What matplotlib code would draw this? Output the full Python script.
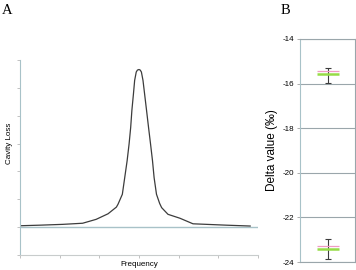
import matplotlib.pyplot as plt

# panel A: cavity loss spectrum (arbitrary units)
freq = [0.0, 0.49, 1.08, 1.58, 1.92, 2.01, 2.22, 2.43, 2.47, 2.58, 2.64,
        2.70, 2.75, 2.79, 2.82, 2.86, 2.89, 2.93, 2.96, 3.00, 3.03, 3.06,
        3.10, 3.14, 3.19, 3.24, 3.29, 3.34, 3.38, 3.44, 3.52, 3.57, 3.73,
        4.03, 4.36, 4.70, 5.21, 5.80]
loss = [0.05, 0.07, 0.10, 0.14, 0.28, 0.34, 0.48, 0.72, 0.82, 1.18, 1.78,
        2.38, 2.99, 3.58, 4.19, 4.79, 5.27, 5.57, 5.64, 5.66, 5.64, 5.57,
        5.27, 4.79, 4.19, 3.58, 2.99, 2.38, 1.78, 1.18, 0.85, 0.70, 0.46,
        0.32, 0.12, 0.10, 0.07, 0.04]

# panel B: delta values (permil), two measurements with error bars
delta_pink = [-15.45, -23.30]
delta_green = [-15.56, -23.41]
err_low = [0.40, 0.46]
err_high = [0.28, 0.46]

plt.rcParams["font.family"] = ["Liberation Sans", "DejaVu Sans"]

spine_col = "#a8c2c8"
grid_col = "#9aa6ab"
line_col = "#3c3c3c"

fig = plt.figure(figsize=(3.56, 2.70), dpi=100)

# ---- A ----
axA = fig.add_axes([0.056, 0.0556, 0.669, 0.722])
axA.plot(freq, loss, color=line_col, linewidth=0.9, solid_joinstyle="round")
axA.axhline(0, color=spine_col, linewidth=1.0, zorder=0)
axA.set_xlim(0, 6)
axA.set_ylim(-1, 6)
axA.set_xticks(range(7))
axA.set_yticks(range(-1, 7))
axA.set_xticklabels([])
axA.set_yticklabels([])
axA.tick_params(length=2, width=0.6, colors="#b8b8b8")
for s in ["top", "right"]:
    axA.spines[s].set_visible(False)
axA.spines["left"].set_color(spine_col)
axA.spines["bottom"].set_color("#c8cccc")
axA.spines["left"].set_linewidth(0.8)
axA.spines["bottom"].set_linewidth(0.8)
fig.text(0.026, 0.47, "Cavity Loss", rotation=90, fontsize=5.8,
         ha="center", va="center")
fig.text(0.39, 0.022, "Frequency", fontsize=5.8, ha="center", va="center")
fig.text(0.006, 0.985, "A", fontsize=10.5, family="Liberation Serif",
         ha="left", va="top")

# ---- B ----
axB = fig.add_axes([0.843, 0.0296, 0.154, 0.826])
x = [1, 1]
axB.errorbar(x, delta_green, yerr=[err_low, err_high], fmt="none",
             ecolor=line_col, elinewidth=0.8, capsize=2.5, capthick=0.8,
             zorder=2)
axB.plot(x, delta_green, linestyle="none", marker="_", markersize=16,
         markeredgewidth=1.8, color="#96dc46", zorder=3)
axB.plot(x, delta_pink, linestyle="none", marker="_", markersize=16,
         markeredgewidth=0.9, color="#f09cc4", zorder=4)
axB.set_xlim(0, 2)
axB.set_ylim(-24, -14)
axB.set_yticks(range(-24, -13, 2))
axB.set_yticklabels([str(v) for v in range(-24, -13, 2)])
axB.set_xticks([])
axB.yaxis.grid(True, color=grid_col, linewidth=0.8)
axB.set_axisbelow(True)
axB.tick_params(axis="y", length=2.5, width=0.6, colors="#a0a0a0",
                labelsize=5.8, labelcolor="black", pad=2)
for s in ["top", "right"]:
    axB.spines[s].set_color(grid_col)
    axB.spines[s].set_linewidth(0.8)
axB.spines["left"].set_color(spine_col)
axB.spines["bottom"].set_color(grid_col)
axB.spines["left"].set_linewidth(0.8)
axB.spines["bottom"].set_linewidth(0.8)
axB.set_ylabel("Delta value (‰)", fontsize=8.5, labelpad=3)
fig.text(0.787, 0.985, "B", fontsize=10.5, family="Liberation Serif",
         ha="left", va="top")

fig.savefig("out.png", dpi=100)
